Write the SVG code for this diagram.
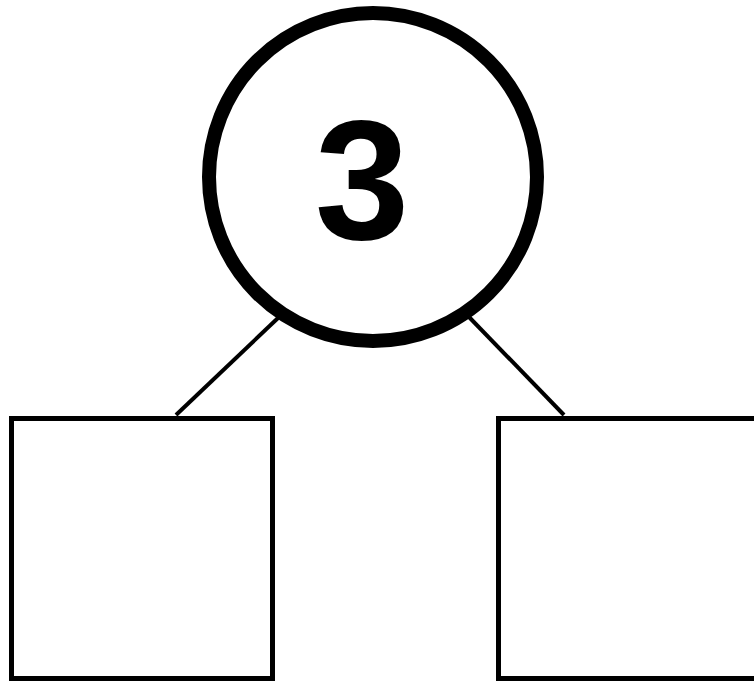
<svg xmlns="http://www.w3.org/2000/svg" width="754" height="684" viewBox="0 0 754 684">
<style>
.box{fill:#fff;stroke:#000;stroke-width:5}
.conn{stroke:#000;stroke-width:4;fill:none}
.num{font-family:"Liberation Sans",Arial,sans-serif;font-weight:bold;font-size:170px;fill:#000}
</style>
<rect width="754" height="684" fill="#fff"/>
<g id="connectors">
<line class="conn" x1="278" y1="318" x2="176" y2="415"/>
<line class="conn" x1="469" y1="317" x2="564" y2="415"/>
</g>
<g id="root">
<circle cx="373" cy="177" r="164" fill="#fff" stroke="#000" stroke-width="14"/>
<text class="num" x="362" y="239" text-anchor="middle">3</text>
</g>
<g id="left-box">
<rect class="box" x="11.5" y="418.5" width="261" height="260"/>
</g>
<g id="right-box">
<rect class="box" x="498.5" y="418.5" width="261" height="260"/>
</g>
</svg>
